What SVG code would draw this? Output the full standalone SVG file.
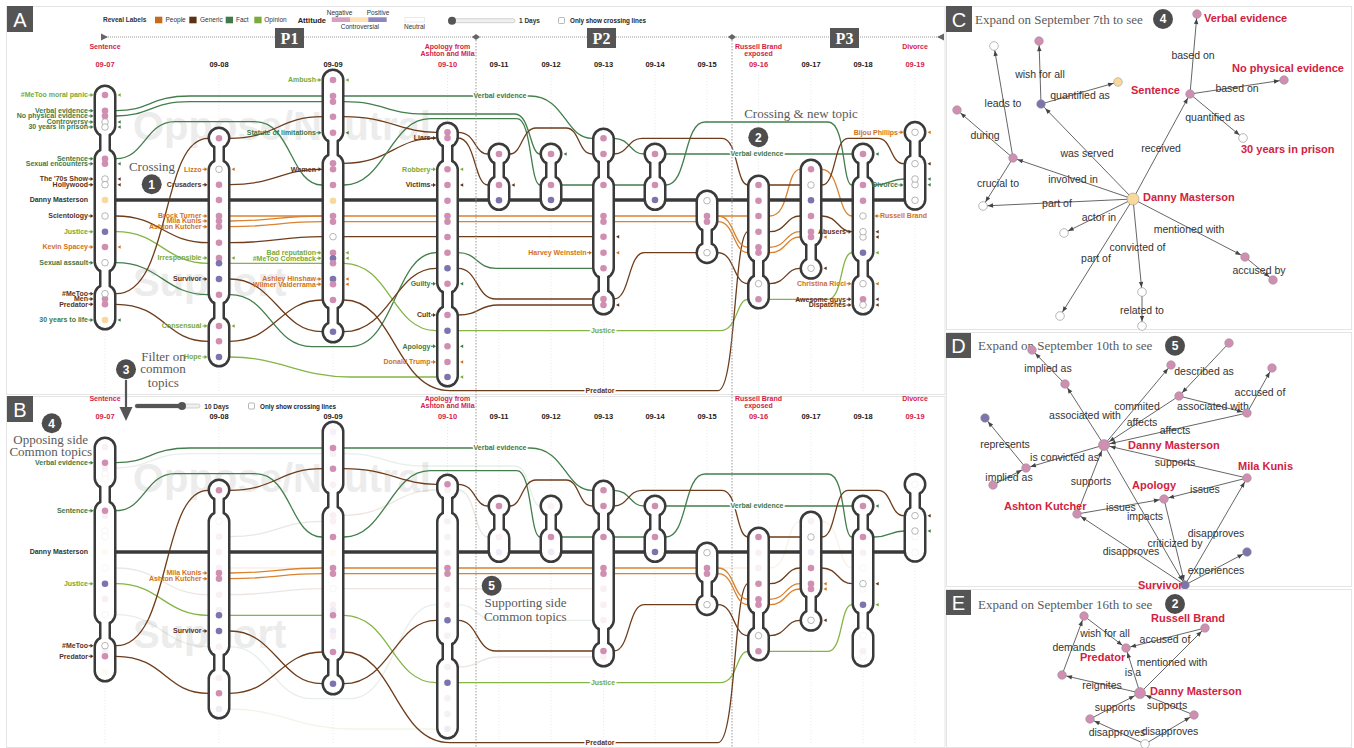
<svg xmlns="http://www.w3.org/2000/svg" width="1354" height="748" viewBox="0 0 1354 748">
<style>
text{font-family:"Liberation Sans",Arial,sans-serif}
.lb{font-size:7px;font-weight:bold;text-anchor:end}
.lbs{font-size:7px;font-weight:bold;text-anchor:start}
.f{fill:#3e7a47}.o{fill:#78aa37}.pe{fill:#d0721c}.g{fill:#5b3217}.dmc{fill:#333}
.L path{fill:none;stroke-width:1.3}
.lf{stroke:#437f4c}.lo{stroke:#84b545}.lp{stroke:#d98330}.lg{stroke:#6e3d1b}
.co{fill:#3a3a3a;stroke:#3a3a3a;stroke-width:5}
.ci{fill:#fff;stroke:none}
.np{fill:#d08fb2}.nv{fill:#7c75ad}.ny{fill:#f9d89c}.nw{fill:#fff;stroke:#9a9a9a;stroke-width:.7}
.gn .np,.gn .nv,.gn .ny{stroke:#8a8a8a;stroke-width:.5}
.il{font-size:7px;font-weight:bold;text-anchor:middle;stroke:#fff;stroke-width:3;paint-order:stroke;stroke-linejoin:round}
.ev{font-size:7px;font-weight:bold;fill:#d3224a;text-anchor:middle}
.dt{font-size:7.5px;font-weight:bold;fill:#222;text-anchor:middle}
.dt.red{fill:#d3224a}
.ann{font-family:"Liberation Serif","DejaVu Serif",serif;font-size:13px;fill:#5a5a5a}
.ctr{text-anchor:middle}
.bd circle{fill:#4d4d4d}.bd text{fill:#fff;font-size:12px;font-weight:bold;text-anchor:middle}
.box{fill:#555}
.bl{fill:#fff;font-size:20px;text-anchor:middle}
.fr{fill:none;stroke:#e4e4e4}
.ed{stroke:#555;stroke-width:.9;marker-end:url(#ah)}
.edL{stroke:#555;stroke-width:.9;marker-end:url(#ahL)}
.el{font-size:10.5px;fill:#333;text-anchor:middle}
.rl{font-size:11px;font-weight:bold;fill:#d3223f}
.lgt{font-size:6.5px;fill:#333}
.wm{font-size:40px;font-weight:bold;fill:#ececec}
.pb{fill:#fff;font-family:"Liberation Serif",serif;font-size:16px;font-weight:bold;text-anchor:middle}
</style>
<defs>
<marker id="ah" viewBox="-7 -3 12 6" refX="4.6" refY="0" markerWidth="12" markerHeight="6" markerUnits="userSpaceOnUse" orient="auto"><path d="M0,0 L-5.5,-2.2 L-5.5,2.2 z" fill="#444"/></marker>
<marker id="ahL" viewBox="-7 -3 14 6" refX="6.2" refY="0" markerWidth="14" markerHeight="6" markerUnits="userSpaceOnUse" orient="auto"><path d="M0,0 L-5.5,-2.2 L-5.5,2.2 z" fill="#444"/></marker>
<path id="arr" d="M-5,-0.45 h2 v-1.5 l3,1.95 l-3,1.95 v-1.5 h-2 z"/>
<path id="rm" d="M0,0 l3.2,-1.7 v3.4 z"/>
<g id="s0907"><rect x="96" y="87" width="18" height="48" rx="9"/><rect x="96" y="150" width="18" height="121" rx="9"/><rect x="96" y="286" width="18" height="42" rx="9"/><rect x="101.5" y="129" width="7" height="27"/><rect x="101.5" y="265" width="7" height="27"/></g>
<g id="s0908"><rect x="210" y="129" width="18" height="18" rx="9"/><rect x="210" y="161" width="18" height="142" rx="9"/><rect x="210" y="318" width="18" height="47" rx="9"/><rect x="215.5" y="141" width="7" height="26"/><rect x="215.5" y="297" width="7" height="27"/></g>
<g id="s0909"><rect x="324" y="71" width="18" height="70" rx="9"/><rect x="324" y="155" width="18" height="153" rx="9"/><rect x="324" y="323" width="18" height="18" rx="9"/><rect x="329.5" y="135" width="7" height="26"/><rect x="329.5" y="302" width="7" height="27"/></g>
<g id="s0910"><rect x="438.5" y="124" width="18" height="22" rx="9"/><rect x="438.5" y="161" width="18" height="131" rx="9"/><rect x="438.5" y="307" width="18" height="78" rx="9"/><rect x="444" y="140" width="7" height="27"/><rect x="444" y="286" width="7" height="27"/></g>
<g id="s0911"><rect x="490" y="145" width="18" height="18" rx="9"/><rect x="490" y="177" width="18" height="31.5" rx="9"/><rect x="495.5" y="157" width="7" height="26"/></g>
<g id="s0912"><rect x="542" y="145" width="18" height="18" rx="9"/><rect x="542" y="177" width="18" height="31.5" rx="9"/><rect x="547.5" y="157" width="7" height="26"/></g>
<g id="s0913"><rect x="594.5" y="130" width="18" height="32" rx="9"/><rect x="594.5" y="177" width="18" height="100" rx="9"/><rect x="594.5" y="291" width="18" height="22" rx="9"/><rect x="600" y="156" width="7" height="27"/><rect x="600" y="271" width="7" height="26"/></g>
<g id="s0914"><rect x="646" y="145" width="18" height="18" rx="9"/><rect x="646" y="177" width="18" height="31.5" rx="9"/><rect x="651.5" y="157" width="7" height="26"/></g>
<g id="s0915"><rect x="698" y="192" width="18" height="38" rx="9"/><rect x="698" y="243.7" width="18" height="18" rx="9"/><rect x="703.5" y="224" width="7" height="25.7"/></g>
<g id="s0916"><rect x="749.5" y="177" width="18" height="84" rx="9"/><rect x="749.5" y="276" width="18" height="31" rx="9"/><rect x="755" y="255" width="7" height="27"/></g>
<g id="s0917"><rect x="802" y="161" width="18" height="84" rx="9"/><rect x="802" y="259.3" width="18" height="18" rx="9"/><rect x="807.5" y="239" width="7" height="26.3"/></g>
<g id="s0918"><rect x="854" y="145" width="18" height="18" rx="9"/><rect x="854" y="177" width="18" height="84" rx="9"/><rect x="854" y="276" width="18" height="37" rx="9"/><rect x="859.5" y="157" width="7" height="26"/><rect x="859.5" y="255" width="7" height="27"/></g>
<g id="s0919"><rect x="906" y="123.3" width="18" height="18" rx="9"/><rect x="906" y="155.7" width="18" height="52.6" rx="9"/><rect x="911.5" y="135.3" width="7" height="26.4"/></g>
</defs>
<rect width="1354" height="748" fill="#fff"/>

<!-- ===== PANEL A ===== -->
<g id="panelA">
<rect class="fr" x="6.5" y="6.5" width="938.5" height="388"/>
<rect class="box" x="7" y="6" width="26" height="26"/><text class="bl" x="20" y="26.5">A</text>
<text class="wm" x="133" y="140">Oppose/Neutral</text>
<text class="wm" x="133" y="296">Support</text>
<g id="legend">
<text class="lgt" x="103" y="21.5" font-weight="bold">Reveal Labels</text>
<rect x="155" y="16.7" width="7.3" height="6.6" fill="#c8691c"/><text class="lgt" x="165.5" y="22">People</text>
<rect x="189.3" y="16.7" width="7.3" height="6.6" fill="#5a3214"/><text class="lgt" x="200" y="22">Generic</text>
<rect x="225.7" y="16.7" width="7.3" height="6.6" fill="#3f7a4a"/><text class="lgt" x="236" y="22">Fact</text>
<rect x="254.3" y="16.7" width="7.3" height="6.6" fill="#7aab3a"/><text class="lgt" x="264.3" y="22">Opinion</text>
<text x="297.7" y="22.5" font-size="7.5" font-weight="bold" fill="#222">Attitude</text>
<rect x="331.7" y="17.3" width="18.3" height="4.7" fill="#d99ec0"/>
<rect x="350" y="17.3" width="18.3" height="4.7" fill="#fde1b5"/>
<rect x="368.3" y="17.3" width="18.4" height="4.7" fill="#8e86bd"/>
<text class="lgt" x="326.7" y="14.5">Negative</text>
<text class="lgt" x="366.7" y="14.5">Positive</text>
<text class="lgt" x="340.7" y="29">Controversial</text>
<rect x="405" y="17.3" width="19.3" height="4.7" fill="#fff" stroke="#ddd" stroke-width=".6"/>
<text class="lgt" x="404" y="29">Neutral</text>
<rect x="452" y="18.7" width="63" height="4" rx="2" fill="#f0f0f0" stroke="#bbb" stroke-width=".6"/>
<circle cx="452" cy="20.7" r="4" fill="#555"/>
<text class="lgt" x="519" y="23" font-weight="bold">1 Days</text>
<rect x="558.5" y="17.5" width="6" height="6" rx="1" fill="#fff" stroke="#888" stroke-width=".6"/>
<text x="570" y="23" font-size="6.3" font-weight="bold" fill="#222">Only show crossing lines</text>
</g>
<g id="timeline">
<line x1="106" y1="37" x2="940" y2="37" stroke="#999" stroke-width="1.2" stroke-dasharray="1 1"/>
<polygon points="101,33.5 108,37 101,40.5" fill="#666"/>
<polygon points="944,33.5 937,37 944,40.5" fill="#666"/>
<polygon points="472,37 476,34 480,37 476,40" fill="#666"/>
<polygon points="728,37 732,34 736,37 732,40" fill="#666"/>
<rect class="box" x="275" y="28" width="29" height="20"/><text class="pb" x="289.5" y="43.5">P1</text>
<rect class="box" x="587" y="28" width="29" height="20"/><text class="pb" x="601.5" y="43.5">P2</text>
<rect class="box" x="830" y="28" width="29" height="20"/><text class="pb" x="844.5" y="43.5">P3</text>
</g>
<g id="hdr">
<text class="ev" x="105" y="49">Sentence</text>
<text class="ev" x="447.5" y="49">Apology from</text>
<text class="ev" x="447.5" y="56">Ashton and Mila</text>
<text class="ev" x="758.5" y="49">Russell Brand</text>
<text class="ev" x="758.5" y="56">exposed</text>
<text class="ev" x="915" y="49">Divorce</text>
<text class="dt red" x="105" y="67">09-07</text>
<text class="dt" x="219" y="67">09-08</text>
<text class="dt" x="333" y="67">09-09</text>
<text class="dt red" x="447.5" y="67">09-10</text>
<text class="dt" x="499" y="67">09-11</text>
<text class="dt" x="551" y="67">09-12</text>
<text class="dt" x="603.5" y="67">09-13</text>
<text class="dt" x="655" y="67">09-14</text>
<text class="dt" x="707" y="67">09-15</text>
<text class="dt red" x="758.5" y="67">09-16</text>
<text class="dt" x="811" y="67">09-17</text>
<text class="dt" x="863" y="67">09-18</text>
<text class="dt red" x="915" y="67">09-19</text>
</g>
<g id="guides" stroke="#e3e3e3" stroke-width=".8" stroke-dasharray="1 2">
<line x1="105" y1="72" x2="105" y2="392"/><line x1="219" y1="72" x2="219" y2="392"/><line x1="333" y1="72" x2="333" y2="392"/><line x1="447.5" y1="72" x2="447.5" y2="392"/><line x1="499" y1="72" x2="499" y2="392"/><line x1="551" y1="72" x2="551" y2="392"/><line x1="603.5" y1="72" x2="603.5" y2="392"/><line x1="655" y1="72" x2="655" y2="392"/><line x1="707" y1="72" x2="707" y2="392"/><line x1="758.5" y1="72" x2="758.5" y2="392"/><line x1="811" y1="72" x2="811" y2="392"/><line x1="863" y1="72" x2="863" y2="392"/><line x1="915" y1="72" x2="915" y2="392"/>
</g>
<g id="connectors-A" class="L">
<g id="lo">
<path class="lf" d="M116,116 C150,116 150,101.7 190,101.7 L344,101.7 C385,101.7 385,114 425,114 L515,114 C530,114 530,154 540,154"/>
<path class="lg" d="M230,184.7 C275,184.7 280,169.3 322,169.3"/>
<path class="lg" d="M344,163.3 C390,163.3 395,138 436,138"/>
<path class="lg" d="M458,138 C476,138 474,185 488,185"/>
<path class="lg" d="M116,216 C160,216 165,242.7 208,242.7 L230,242.7 C275,242.7 280,236.7 322,236.7 L592,236.7"/>
<path class="lf" d="M116,262.7 C160,262.7 165,294.7 208,294.7 L230,294.7 C270,294.7 272,346.7 312,346.7 L350,346.7 C395,346.7 395,252.7 436,252.7 L458,252.7 C478,252.7 476,268.3 496,268.3 L592,268.3"/>
<path class="lo" d="M230,357 C280,357 300,377 350,377 L436,377"/>
<path class="lg" d="M458,315 C480,315 478,305 498,305 L592,305"/>
<path class="lp" d="M230,216 L322,216"/>
<path class="lp" d="M718,216 L748,216 M770,216 C790,216 786,169.3 800,169.3 M822,169.3 C840,169.3 838,216 852,216"/>
</g>
<g id="lc">
<path class="lf" d="M116,110.7 C150,110.7 150,96 190,96 L530,96 C565,96 565,138.3 592,138.3 L614,138.3 C630,138.3 630,154 644,154 L852,154"/>
<path class="lf" d="M116,158.7 C145,158.7 145,121.7 175,121.7 L255,121.7 C292,121.7 290,185 322,185 L344,185 C385,185 390,118.7 430,118.7 L517,118.7 C532,118.7 530,185 540,185 L666,185 C688,185 683,122 705,122 L828,122 C846,122 842,185 852,185 L874,185 C890,185 890,179 904,179"/>
<path class="lo" d="M116,231.7 C160,231.7 165,263.3 208,263.3 L344,263.3 C390,263.3 392,330.7 436,330.7 L720,330.7 C738,330.7 736,299.3 748,299.3 L828,299.3 C843,299.3 840,252.7 852,252.7"/>
<path class="lg" d="M116,293.7 C172,293.7 160,138.3 208,138.3 L230,138.3 C275,138.3 280,116.7 322,116.7 L344,116.7 C390,116.7 400,132.3 436,132.3 L458,132.3 C476,132.3 474,154 488,154 L510,154 C522,154 522,128 536,128 L566,128 C580,128 578,154 592,154 L614,154 C628,154 628,138.3 642,138.3 L722,138.3 C738,138.3 736,185 748,185 L822,185 C836,185 834,138.3 848,138.3 L878,138.3 C892,138.3 890,163.7 904,163.7"/>
<path class="lg" d="M116,304.3 C165,304.3 165,341.3 208,341.3 L230,341.3 C275,341.3 280,300 322,300 L344,300 C395,300 395,390.7 450,390.7 L718,390.7 C736,390.7 734,231.7 748,231.7 L770,231.7 C786,231.7 786,216 800,216 L822,216 C838,216 838,231.7 852,231.7"/>
<path class="lg" d="M230,279 C275,279 280,331.7 322,331.7 L344,331.7 C390,331.7 395,268.3 436,268.3 L458,268.3 C478,268.3 476,299 496,299 L614,299 C630,299 628,252.7 644,252.7 L718,252.7 C735,252.7 733,283.7 748,283.7 L770,283.7 C786,283.7 786,268.3 800,268.3"/>
<path class="lp" d="M230,221 C275,221 280,216 322,216 L718,216 C735,216 733,247.3 748,247.3 L770,247.3 C786,247.3 786,231.7 800,231.7"/>
<path class="lp" d="M230,226.7 C275,226.7 280,221.7 322,221.7 L718,221.7 C735,221.7 733,252.7 748,252.7 L770,252.7 C786,252.7 786,237 800,237"/>
</g>
<line x1="110" y1="200" x2="910" y2="200" stroke="#3a3a3a" stroke-width="3.5"/>
</g>
<g id="capsA">
<g id="A-0907"><use href="#s0907" class="co"/><use href="#s0907" class="ci"/></g>
<g id="A-0908"><use href="#s0908" class="co"/><use href="#s0908" class="ci"/></g>
<g id="A-0909"><use href="#s0909" class="co"/><use href="#s0909" class="ci"/></g>
<g id="A-0910"><use href="#s0910" class="co"/><use href="#s0910" class="ci"/></g>
<g id="A-0911"><use href="#s0911" class="co"/><use href="#s0911" class="ci"/></g>
<g id="A-0912"><use href="#s0912" class="co"/><use href="#s0912" class="ci"/></g>
<g id="A-0913"><use href="#s0913" class="co"/><use href="#s0913" class="ci"/></g>
<g id="A-0914"><use href="#s0914" class="co"/><use href="#s0914" class="ci"/></g>
<g id="A-0915"><use href="#s0915" class="co"/><use href="#s0915" class="ci"/></g>
<g id="A-0916"><use href="#s0916" class="co"/><use href="#s0916" class="ci"/></g>
<g id="A-0917"><use href="#s0917" class="co"/><use href="#s0917" class="ci"/></g>
<g id="A-0918"><use href="#s0918" class="co"/><use href="#s0918" class="ci"/></g>
<g id="A-0919"><use href="#s0919" class="co"/><use href="#s0919" class="ci"/></g>
</g>
<g id="topicsA">
<g id="no">
<circle cx="105" cy="95" r="3.3" class="np"/><circle cx="105" cy="116" r="3.3" class="np"/><circle cx="105" cy="122" r="3.3" class="nw"/><circle cx="105" cy="127" r="3.3" class="nw"/><circle cx="105" cy="163.7" r="3.3" class="np"/><circle cx="105" cy="179" r="3.3" class="nw"/><circle cx="105" cy="184.7" r="3.3" class="nw"/><circle cx="105" cy="200" r="3.3" class="ny"/><circle cx="105" cy="216" r="3.3" class="nw"/><circle cx="105" cy="247" r="3.3" class="np"/><circle cx="105" cy="262.7" r="3.3" class="nw"/><circle cx="105" cy="299" r="3.3" class="np"/><circle cx="105" cy="320" r="3.3" class="ny"/>
<circle cx="219" cy="169.3" r="3.3" class="nw"/><circle cx="219" cy="184.7" r="3.3" class="np"/><circle cx="219" cy="200" r="3.3" class="np"/><circle cx="219" cy="216" r="3.3" class="np"/><circle cx="219" cy="242.7" r="3.3" class="np"/><circle cx="219" cy="258" r="3.3" class="np"/><circle cx="219" cy="294.7" r="3.3" class="np"/><circle cx="219" cy="326" r="3.3" class="np"/><circle cx="219" cy="357" r="3.3" class="nv"/>
<circle cx="333" cy="80" r="3.3" class="np"/><circle cx="333" cy="101.7" r="3.3" class="np"/><circle cx="333" cy="132.7" r="3.3" class="np"/><circle cx="333" cy="163.3" r="3.3" class="np"/><circle cx="333" cy="169.3" r="3.3" class="np"/><circle cx="333" cy="200.7" r="3.3" class="ny"/><circle cx="333" cy="236.7" r="3.3" class="nw"/><circle cx="333" cy="252.7" r="3.3" class="np"/><circle cx="333" cy="258.3" r="3.3" class="nv"/><circle cx="333" cy="279" r="3.3" class="nv"/><circle cx="333" cy="284.3" r="3.3" class="np"/>
<circle cx="447.5" cy="138" r="3.3" class="np"/><circle cx="447.5" cy="169.3" r="3.3" class="np"/><circle cx="447.5" cy="185" r="3.3" class="np"/><circle cx="447.5" cy="200.7" r="3.3" class="np"/><circle cx="447.5" cy="237" r="3.3" class="np"/><circle cx="447.5" cy="252.7" r="3.3" class="np"/><circle cx="447.5" cy="283.7" r="3.3" class="np"/><circle cx="447.5" cy="315" r="3.3" class="np"/><circle cx="447.5" cy="346.3" r="3.3" class="np"/><circle cx="447.5" cy="362" r="3.3" class="np"/><circle cx="447.5" cy="377" r="3.3" class="nv"/>
<circle cx="499" cy="185" r="3.3" class="np"/><circle cx="499" cy="200.3" r="3.3" class="nv"/>
<circle cx="551" cy="154" r="3.3" class="np"/><circle cx="551" cy="200" r="3.3" class="nv"/>
<circle cx="603.5" cy="236.7" r="3.3" class="np"/><circle cx="603.5" cy="252.7" r="3.3" class="np"/><circle cx="603.5" cy="268.3" r="3.3" class="np"/><circle cx="603.5" cy="305" r="3.3" class="np"/>
<circle cx="758.5" cy="200.7" r="3.3" class="np"/><circle cx="758.5" cy="216" r="3.3" class="np"/>
<circle cx="811" cy="169.3" r="3.3" class="np"/><circle cx="811" cy="200.3" r="3.3" class="nv"/>
<circle cx="863" cy="200.7" r="3.3" class="np"/><circle cx="863" cy="216" r="3.3" class="nw"/><circle cx="863" cy="237" r="3.3" class="nw"/><circle cx="863" cy="283.7" r="3.3" class="nw"/><circle cx="863" cy="299.3" r="3.3" class="np"/><circle cx="863" cy="305" r="3.3" class="nw"/>
<circle cx="915" cy="132.3" r="3.3" class="nw"/><circle cx="915" cy="184.7" r="3.3" class="nw"/><circle cx="915" cy="200.3" r="3.3" class="nw"/>
</g>
<g id="nc">
<circle cx="105" cy="110.7" r="3.3" class="np"/><circle cx="105" cy="158.7" r="3.3" class="np"/><circle cx="105" cy="231.7" r="3.3" class="nv"/><circle cx="105" cy="293.7" r="3.3" class="nw"/><circle cx="105" cy="304.3" r="3.3" class="np"/>
<circle cx="219" cy="138.3" r="3.3" class="np"/><circle cx="219" cy="221" r="3.3" class="np"/><circle cx="219" cy="226.7" r="3.3" class="np"/><circle cx="219" cy="263.3" r="3.3" class="nv"/><circle cx="219" cy="279" r="3.3" class="nv"/><circle cx="219" cy="341.3" r="3.3" class="np"/>
<circle cx="333" cy="96" r="3.3" class="np"/><circle cx="333" cy="116.7" r="3.3" class="np"/><circle cx="333" cy="185" r="3.3" class="np"/><circle cx="333" cy="216" r="3.3" class="np"/><circle cx="333" cy="221.7" r="3.3" class="np"/><circle cx="333" cy="263.3" r="3.3" class="np"/><circle cx="333" cy="300" r="3.3" class="np"/><circle cx="333" cy="331.7" r="3.3" class="nv"/>
<circle cx="447.5" cy="132.3" r="3.3" class="np"/><circle cx="447.5" cy="216" r="3.3" class="np"/><circle cx="447.5" cy="221.7" r="3.3" class="np"/><circle cx="447.5" cy="268.3" r="3.3" class="nv"/><circle cx="447.5" cy="330.7" r="3.3" class="nv"/>
<circle cx="499" cy="154" r="3.3" class="np"/>
<circle cx="551" cy="185" r="3.3" class="np"/>
<circle cx="603.5" cy="138.3" r="3.3" class="np"/><circle cx="603.5" cy="154" r="3.3" class="np"/><circle cx="603.5" cy="185" r="3.3" class="np"/><circle cx="603.5" cy="216" r="3.3" class="np"/><circle cx="603.5" cy="221.7" r="3.3" class="np"/><circle cx="603.5" cy="299" r="3.3" class="np"/>
<circle cx="655" cy="154" r="3.3" class="np"/><circle cx="655" cy="185" r="3.3" class="np"/><circle cx="655" cy="200" r="3.3" class="nv"/>
<circle cx="707" cy="200.7" r="3.3" class="nw"/><circle cx="707" cy="216" r="3.3" class="np"/><circle cx="707" cy="221.7" r="3.3" class="np"/><circle cx="707" cy="252.7" r="3.3" class="nw"/>
<circle cx="758.5" cy="185" r="3.3" class="np"/><circle cx="758.5" cy="231.7" r="3.3" class="np"/><circle cx="758.5" cy="247.3" r="3.3" class="np"/><circle cx="758.5" cy="252.7" r="3.3" class="np"/><circle cx="758.5" cy="283.7" r="3.3" class="nw"/><circle cx="758.5" cy="299.3" r="3.3" class="np"/>
<circle cx="811" cy="185" r="3.3" class="nw"/><circle cx="811" cy="216" r="3.3" class="np"/><circle cx="811" cy="231.7" r="3.3" class="np"/><circle cx="811" cy="237" r="3.3" class="np"/><circle cx="811" cy="268.3" r="3.3" class="nw"/>
<circle cx="863" cy="154" r="3.3" class="np"/><circle cx="863" cy="185" r="3.3" class="np"/><circle cx="863" cy="231.7" r="3.3" class="nw"/><circle cx="863" cy="252.7" r="3.3" class="nv"/>
<circle cx="915" cy="163.7" r="3.3" class="nw"/><circle cx="915" cy="179" r="3.3" class="nw"/>
</g>
</g>
<g id="labelsA">
<text class="lb o" x="88" y="97.4">#MeToo moral panic</text>
<text class="lb f" x="88" y="113.1">Verbal evidence</text>
<text class="lb f" x="88" y="118.4">No physical evidence</text>
<text class="lb f" x="88" y="124.4">Controversy</text>
<text class="lb f" x="88" y="129.4">30 years in prison</text>
<text class="lb f" x="88" y="161.1">Sentence</text>
<text class="lb f" x="88" y="166.1">Sexual encounters</text>
<text class="lb g" x="88" y="181.4">The '70s Show</text>
<text class="lb g" x="88" y="187.1">Hollywood</text>
<text class="lb dmc" x="88" y="202.4">Danny Masterson</text>
<text class="lb g" x="88" y="218.4">Scientology</text>
<text class="lb o" x="88" y="234.1">Justice</text>
<text class="lb pe" x="88" y="249.4">Kevin Spacey</text>
<text class="lb f" x="88" y="265.1">Sexual assault</text>
<text class="lb g" x="88" y="296.1">#MeToo</text>
<text class="lb g" x="88" y="301.4">Men</text>
<text class="lb g" x="88" y="306.7">Predator</text>
<text class="lb f" x="88" y="322.4">30 years to life</text>
<g>
<use href="#arr" x="93.5" y="95" class="o"/><use href="#arr" x="93.5" y="110.7" class="f"/><use href="#arr" x="93.5" y="116" class="f"/><use href="#arr" x="93.5" y="122" class="f"/><use href="#arr" x="93.5" y="127" class="f"/><use href="#arr" x="93.5" y="158.7" class="f"/><use href="#arr" x="93.5" y="163.7" class="f"/><use href="#arr" x="93.5" y="179" class="g"/><use href="#arr" x="93.5" y="184.7" class="g"/><use href="#arr" x="93.5" y="216" class="g"/><use href="#arr" x="93.5" y="231.7" class="o"/><use href="#arr" x="93.5" y="247" class="pe"/><use href="#arr" x="93.5" y="262.7" class="f"/><use href="#arr" x="93.5" y="293.7" class="g"/><use href="#arr" x="93.5" y="299" class="g"/><use href="#arr" x="93.5" y="304.3" class="g"/><use href="#arr" x="93.5" y="320" class="f"/>
</g>
<text class="lb pe" x="201.5" y="171.7">Lizzo</text>
<text class="lb g" x="201.5" y="187.1">Crusaders</text>
<text class="lb pe" x="201.5" y="218.4">Brock Turner</text>
<text class="lb pe" x="201.5" y="223.4">Mila Kunis</text>
<text class="lb pe" x="201.5" y="229.1">Ashton Kutcher</text>
<text class="lb o" x="201.5" y="260.4">Irresponsible</text>
<text class="lb g" x="201.5" y="281.4">Survivor</text>
<text class="lb o" x="201.5" y="328.4">Consensual</text>
<text class="lb o" x="201.5" y="359.4">Hope</text>
<g>
<use href="#arr" x="207.5" y="169.3" class="pe"/><use href="#arr" x="207.5" y="184.7" class="g"/><use href="#arr" x="207.5" y="216" class="pe"/><use href="#arr" x="207.5" y="221" class="pe"/><use href="#arr" x="207.5" y="226.7" class="pe"/><use href="#arr" x="207.5" y="258" class="o"/><use href="#arr" x="207.5" y="279" class="g"/><use href="#arr" x="207.5" y="326" class="o"/><use href="#arr" x="207.5" y="357" class="o"/>
</g>
<text class="lb o" x="316" y="82.4">Ambush</text>
<text class="lb f" x="316" y="135.1">Statute of limitations</text>
<text class="lb g" x="316" y="171.7">Women</text>
<text class="lb o" x="316" y="255.1">Bad reputation</text>
<text class="lb o" x="316" y="260.7">#MeToo Comeback</text>
<text class="lb pe" x="316" y="281.4">Ashley Hinshaw</text>
<text class="lb pe" x="316" y="286.7">Wilmer Valderrama</text>
<g>
<use href="#arr" x="321.5" y="80" class="o"/><use href="#arr" x="321.5" y="132.7" class="f"/><use href="#arr" x="321.5" y="169.3" class="g"/><use href="#arr" x="321.5" y="252.7" class="o"/><use href="#arr" x="321.5" y="258.3" class="o"/><use href="#arr" x="321.5" y="279" class="pe"/><use href="#arr" x="321.5" y="284.3" class="pe"/>
</g>
<text class="lb g" x="430.5" y="140.4">Liars</text>
<text class="lb o" x="430.5" y="171.7">Robbery</text>
<text class="lb g" x="430.5" y="187.4">Victims</text>
<text class="lb f" x="430.5" y="286.1">Guilty</text>
<text class="lb g" x="430.5" y="317.4">Cult</text>
<text class="lb f" x="430.5" y="348.7">Apology</text>
<text class="lb pe" x="430.5" y="364.4">Donald Trump</text>
<g>
<use href="#arr" x="436" y="138" class="g"/><use href="#arr" x="436" y="169.3" class="o"/><use href="#arr" x="436" y="185" class="g"/><use href="#arr" x="436" y="283.7" class="f"/><use href="#arr" x="436" y="315" class="g"/><use href="#arr" x="436" y="346.3" class="f"/><use href="#arr" x="436" y="362" class="pe"/>
</g>
<text class="lb pe" x="586.5" y="255.1">Harvey Weinstein</text>
<use href="#arr" x="592" y="252.7" class="pe"/>
<text class="lb g" x="846" y="234.1">Abusers</text>
<text class="lb pe" x="846" y="286.1">Christina Ricci</text>
<text class="lb g" x="846" y="301.7">Awesome guys</text>
<text class="lb g" x="846" y="307.4">Dispatches</text>
<use href="#arr" x="851.5" y="231.7" class="g"/><use href="#arr" x="851.5" y="283.7" class="pe"/><use href="#arr" x="851.5" y="299.3" class="g"/><use href="#arr" x="851.5" y="305" class="g"/>
<text class="lb pe" x="898" y="134.7">Bijou Phillips</text>
<text class="lb f" x="898" y="187.4">Divorce</text>
<use href="#arr" x="903.5" y="132.3" class="pe"/><use href="#arr" x="903.5" y="185" class="f"/>
<text class="lbs pe" x="880" y="218.4">Russell Brand</text>
<use href="#arr" transform="translate(874.5,216) rotate(180)" class="pe"/>
<g>
<use href="#rm" x="117.5" y="95" class="o"/><use href="#rm" x="117.5" y="122" class="f"/><use href="#rm" x="117.5" y="127" class="f"/><use href="#rm" x="117.5" y="163.7" class="f"/><use href="#rm" x="117.5" y="179" class="g"/><use href="#rm" x="117.5" y="184.7" class="g"/><use href="#rm" x="117.5" y="247" class="pe"/><use href="#rm" x="117.5" y="320" class="f"/>
<use href="#rm" x="231.5" y="169.3" class="pe"/><use href="#rm" x="231.5" y="258" class="o"/><use href="#rm" x="231.5" y="326" class="o"/>
<use href="#rm" x="345.5" y="80" class="o"/><use href="#rm" x="345.5" y="132.7" class="f"/><use href="#rm" x="345.5" y="252.7" class="o"/><use href="#rm" x="345.5" y="258.3" class="o"/><use href="#rm" x="345.5" y="279" class="pe"/><use href="#rm" x="345.5" y="284.3" class="pe"/>
<use href="#rm" x="460" y="169.3" class="o"/><use href="#rm" x="460" y="185" class="g"/><use href="#rm" x="460" y="283.7" class="f"/><use href="#rm" x="460" y="346.3" class="f"/><use href="#rm" x="460" y="362" class="pe"/><use href="#rm" x="460" y="377" class="o"/>
<use href="#rm" x="511.5" y="185" class="g"/><use href="#rm" x="563.5" y="154" class="f"/>
<use href="#rm" x="616" y="236.7" class="g"/><use href="#rm" x="616" y="252.7" class="pe"/><use href="#rm" x="616" y="305" class="g"/>
<use href="#rm" x="823.5" y="231.7" class="pe"/><use href="#rm" x="823.5" y="237" class="pe"/><use href="#rm" x="823.5" y="268.3" class="g"/>
<use href="#rm" x="875.5" y="154" class="f"/><use href="#rm" x="875.5" y="231.7" class="g"/><use href="#rm" x="875.5" y="237" class="g"/><use href="#rm" x="875.5" y="252.7" class="o"/><use href="#rm" x="875.5" y="283.7" class="pe"/><use href="#rm" x="875.5" y="299.3" class="g"/><use href="#rm" x="875.5" y="305" class="g"/>
<use href="#rm" x="927.5" y="132.3" class="pe"/><use href="#rm" x="927.5" y="163.7" class="g"/><use href="#rm" x="927.5" y="179" class="f"/><use href="#rm" x="927.5" y="184.7" class="f"/>
</g>
<text class="il f" x="500" y="98.4">Verbal evidence</text>
<text class="il f" x="757" y="156.4">Verbal evidence</text>
<text class="il o" x="603" y="333.1">Justice</text>
<text class="il g" x="600" y="393.1">Predator</text>
</g>
<text class="ann ctr" x="152" y="171">Crossing</text>
<g class="bd"><circle cx="151.7" cy="184.3" r="10"/><text x="151.7" y="188.5">1</text></g>
<text class="ann ctr" x="801" y="117.5">Crossing &amp; new topic</text>
<g class="bd"><circle cx="758.3" cy="137.3" r="10"/><text x="758.3" y="141.5">2</text></g>
<text class="ann ctr" x="163.5" y="360.5">Filter on</text>
<text class="ann ctr" x="163" y="373">common</text>
<text class="ann ctr" x="163.3" y="386.5">topics</text>
<g class="bd"><circle cx="126" cy="369.3" r="10"/><text x="126" y="373.5">3</text></g>
</g>
<line x1="476" y1="40" x2="476" y2="748" stroke="#999" stroke-dasharray="1.5 1.5"/>
<line x1="732" y1="40" x2="732" y2="748" stroke="#999" stroke-dasharray="1.5 1.5"/>

<!-- ===== PANEL B ===== -->
<g id="panelB">
<rect class="fr" x="6.5" y="396.5" width="938.5" height="351"/>
<rect class="box" x="7" y="396" width="26" height="26"/><text class="bl" x="20" y="416.5">B</text>
<text class="wm" x="133" y="492">Oppose/Neutral</text>
<text class="wm" x="133" y="648">Support</text>
<use href="#hdr" transform="translate(0,351.5)"/>
<use href="#guides" transform="translate(0,352)"/>
<rect x="135" y="404" width="65" height="4" rx="2" fill="#f0f0f0" stroke="#bbb" stroke-width=".6"/>
<rect x="135" y="404" width="47" height="4" rx="2" fill="#555"/>
<circle cx="182" cy="406" r="4" fill="#555"/>
<text class="lgt" x="204.3" y="408.5" font-weight="bold">10 Days</text>
<rect x="248.5" y="403" width="6" height="6" rx="1" fill="#fff" stroke="#888" stroke-width=".6"/>
<text x="260" y="408.5" font-size="6.3" font-weight="bold" fill="#222">Only show crossing lines</text>
<g id="connectors-B" class="L">
<use href="#lo" transform="translate(0,352)" opacity="0.12"/>
<use href="#lc" transform="translate(0,352)"/>
<line x1="110" y1="552" x2="910" y2="552" stroke="#3a3a3a" stroke-width="3.5"/>
</g>
<use id="capsB" href="#capsA" transform="translate(0,352)"/>
<use href="#no" transform="translate(0,352)" opacity="0.13"/>
<use href="#nc" transform="translate(0,352)"/>
<g id="labelsB">
<text class="lb f" x="88" y="465.1">Verbal evidence</text>
<text class="lb f" x="88" y="513.1">Sentence</text>
<text class="lb dmc" x="88" y="554.4">Danny Masterson</text>
<text class="lb o" x="88" y="586.1">Justice</text>
<text class="lb g" x="88" y="648.1">#MeToo</text>
<text class="lb g" x="88" y="658.7">Predator</text>
<use href="#arr" x="93.5" y="462.7" class="f"/><use href="#arr" x="93.5" y="510.7" class="f"/><use href="#arr" x="93.5" y="583.7" class="o"/><use href="#arr" x="93.5" y="645.7" class="g"/><use href="#arr" x="93.5" y="656.3" class="g"/>
<text class="lb pe" x="201.5" y="575.4">Mila Kunis</text>
<text class="lb pe" x="201.5" y="581.1">Ashton Kutcher</text>
<text class="lb g" x="201.5" y="633.4">Survivor</text>
<use href="#arr" x="207.5" y="573" class="pe"/><use href="#arr" x="207.5" y="578.7" class="pe"/><use href="#arr" x="207.5" y="631" class="g"/>
<use href="#rm" x="875.5" y="506" class="f"/><use href="#rm" x="823.5" y="583.7" class="pe"/><use href="#rm" x="823.5" y="589" class="pe"/><use href="#rm" x="823.5" y="620.3" class="g"/><use href="#rm" x="875.5" y="583.7" class="g"/><use href="#rm" x="875.5" y="604.7" class="o"/><use href="#rm" x="927.5" y="515.7" class="g"/><use href="#rm" x="927.5" y="531" class="f"/>
<text class="il f" x="500" y="450.4">Verbal evidence</text>
<text class="il f" x="757" y="508.4">Verbal evidence</text>
<text class="il o" x="603" y="685.1">Justice</text>
<text class="il g" x="600" y="745.1">Predator</text>
</g>
<line x1="126" y1="380" x2="126" y2="409" stroke="#555" stroke-width="2.2"/>
<polygon points="119.5,407 132.5,407 126,421" fill="#555"/>
<g class="bd"><circle cx="51.7" cy="423.3" r="10"/><text x="51.7" y="427.5">4</text></g>
<text class="ann ctr" x="50.7" y="443.5">Opposing side</text>
<text class="ann ctr" x="50.8" y="456">Common topics</text>
<g class="bd"><circle cx="491.7" cy="585.7" r="10"/><text x="491.7" y="589.9">5</text></g>
<text class="ann ctr" x="525.5" y="607">Supporting side</text>
<text class="ann ctr" x="525.3" y="621">Common topics</text>
</g>

<!-- ===== PANEL C ===== -->
<g id="panelC">
<rect class="fr" x="946.5" y="6.5" width="405" height="323"/>
<rect class="box" x="946" y="6" width="26" height="26"/><text class="bl" x="959" y="26.5">C</text>
<text class="ann" x="975" y="23.5" fill="#666">Expand on September 7th to see</text>
<g class="bd"><circle cx="1163" cy="19" r="10"/><text x="1163" y="23.2">4</text></g>
<g id="edgesC">
<line class="edL" x1="1133" y1="199" x2="1041" y2="104"/>
<line class="ed" x1="1041" y1="104" x2="1039" y2="41"/>
<line class="ed" x1="1041" y1="104" x2="1118" y2="82"/>
<line class="ed" x1="1133" y1="199" x2="1013" y2="158"/>
<line class="ed" x1="1013" y1="158" x2="957" y2="110"/>
<line class="ed" x1="1013" y1="158" x2="994" y2="46"/>
<line class="ed" x1="1013" y1="158" x2="983" y2="206"/>
<line class="ed" x1="1133" y1="199" x2="983" y2="206"/>
<line class="ed" x1="1133" y1="199" x2="1190" y2="94"/>
<line class="ed" x1="1190" y1="94" x2="1197" y2="14"/>
<line class="ed" x1="1190" y1="94" x2="1284" y2="80"/>
<line class="ed" x1="1190" y1="94" x2="1243" y2="138"/>
<line class="ed" x1="1133" y1="199" x2="1064" y2="233"/>
<line class="ed" x1="1133" y1="199" x2="1060" y2="316"/>
<line class="ed" x1="1133" y1="199" x2="1142" y2="292"/>
<line class="ed" x1="1142" y1="292" x2="1142" y2="326"/>
<line class="ed" x1="1133" y1="199" x2="1245" y2="257"/>
<line class="ed" x1="1245" y1="257" x2="1273" y2="280"/>
</g>
<g class="el">
<text x="1087" y="156.5">was served</text><text x="1040" y="77.5">wish for all</text><text x="1080" y="98.5">quantified as</text><text x="1073" y="182.5">involved in</text><text x="985" y="138.5">during</text><text x="1003" y="106.5">leads to</text><text x="998" y="186.5">crucial to</text><text x="1057" y="206.5">part of</text><text x="1161" y="151.5">received</text><text x="1193" y="58.5">based on</text><text x="1237" y="91.5">based on</text><text x="1215" y="120.5">quantified as</text><text x="1099" y="220.5">actor in</text><text x="1096" y="261.5">part of</text><text x="1137.5" y="250.5">convicted of</text><text x="1142" y="313.5">related to</text><text x="1189" y="232.5">mentioned with</text><text x="1259" y="273.5">accused by</text>
</g>
<g id="nodesC" class="gn">
<circle id="C-verbal" cx="1197" cy="14" r="4.3" class="np"/><circle cx="994" cy="46" r="4.3" class="nw"/><circle cx="1039" cy="41" r="4.3" class="np"/><circle cx="1118" cy="82" r="4.3" class="ny"/><circle cx="1041" cy="104" r="4.3" class="nv"/><circle cx="957" cy="110" r="4.3" class="np"/><circle id="C-nophys" cx="1284" cy="80" r="4.3" class="np"/><circle id="C-sentence" cx="1190" cy="94" r="4.3" class="np"/><circle id="C-30y" cx="1243" cy="138" r="4.3" class="nw"/><circle cx="1013" cy="158" r="4.3" class="np"/><circle id="C-danny" cx="1133" cy="199" r="6" class="ny"/><circle cx="983" cy="206" r="4.3" class="nw"/><circle cx="1064" cy="233" r="4.3" class="nw"/><circle cx="1245" cy="257" r="4.3" class="np"/><circle cx="1273" cy="280" r="4.3" class="np"/><circle cx="1142" cy="292" r="4.3" class="nw"/><circle cx="1060" cy="316" r="4.3" class="nw"/><circle cx="1142" cy="326" r="4.3" class="nw"/>
</g>
<text class="rl" x="1204" y="22">Verbal evidence</text>
<text class="rl" x="1232" y="72">No physical evidence</text>
<text class="rl" x="1131" y="94">Sentence</text>
<text class="rl" x="1241" y="152.5">30 years in prison</text>
<text class="rl" x="1143" y="201">Danny Masterson</text>
</g>

<!-- ===== PANEL D ===== -->
<g id="panelD">
<rect class="fr" x="946.5" y="332.5" width="405" height="254"/>
<rect class="box" x="946" y="333" width="25" height="25"/><text class="bl" x="958.5" y="352.5">D</text>
<text class="ann" x="978" y="349.5" fill="#666">Expand on September 10th to see</text>
<g class="bd"><circle cx="1175" cy="345.7" r="10"/><text x="1175" y="349.9">5</text></g>
<g id="edgesD">
<line class="ed" x1="1104" y1="445" x2="1065" y2="384"/>
<line class="ed" x1="1065" y1="384" x2="1032" y2="350"/>
<line class="ed" x1="1104" y1="445" x2="1171" y2="365"/>
<line class="ed" x1="1229" y1="343" x2="1179" y2="396"/>
<line class="edL" x1="1179" y1="396" x2="1104" y2="445"/>
<line class="ed" x1="1179" y1="396" x2="1247" y2="413"/>
<line class="ed" x1="1247" y1="413" x2="1272" y2="368"/>
<line class="edL" x1="1247" y1="413" x2="1104" y2="445"/>
<line class="ed" x1="1026" y1="468" x2="985" y2="418"/>
<line class="ed" x1="1104" y1="445" x2="1026" y2="468"/>
<line class="ed" x1="993" y1="485" x2="1026" y2="468"/>
<line class="edL" x1="1247" y1="478" x2="1104" y2="445"/>
<line class="edL" x1="1077" y1="514" x2="1104" y2="445"/>
<line class="ed" x1="1247" y1="478" x2="1164" y2="499"/>
<line class="ed" x1="1077" y1="514" x2="1164" y2="499"/>
<line class="ed" x1="1104" y1="445" x2="1185" y2="585"/>
<line class="ed" x1="1164" y1="499" x2="1185" y2="585"/>
<line class="ed" x1="1185" y1="585" x2="1077" y2="514"/>
<line class="ed" x1="1185" y1="585" x2="1247" y2="478"/>
<line class="ed" x1="1185" y1="585" x2="1247" y2="552"/>
</g>
<g class="el">
<text x="1048" y="371.5">implied as</text><text x="1085" y="418.5">associated with</text><text x="1137" y="409.5">commited</text><text x="1204" y="374.5">described as</text><text x="1142" y="425.5">affects</text><text x="1213" y="409.5">associated with</text><text x="1260" y="395.5">accused of</text><text x="1175" y="433.5">affects</text><text x="1005" y="447.5">represents</text><text x="1064.5" y="460.5">is convicted as</text><text x="1009" y="480.5">implied as</text><text x="1175" y="465.5">supports</text><text x="1091" y="484.5">supports</text><text x="1205" y="492.5">issues</text><text x="1121" y="510.5">issues</text><text x="1145" y="519.5">impacts</text><text x="1175" y="546.5">criticized by</text><text x="1131" y="554.5">disapproves</text><text x="1216" y="536.5">disapproves</text><text x="1216" y="573.5">experiences</text>
</g>
<g id="nodesD" class="gn">
<circle cx="1032" cy="350" r="4.3" class="np"/><circle cx="1065" cy="384" r="4.3" class="np"/><circle cx="1171" cy="365" r="4.3" class="np"/><circle cx="1229" cy="343" r="4.3" class="np"/><circle cx="1272" cy="368" r="4.3" class="np"/><circle cx="1179" cy="396" r="4.3" class="np"/><circle cx="1247" cy="413" r="4.3" class="np"/><circle cx="985" cy="418" r="4.3" class="nv"/><circle id="D-danny" cx="1104" cy="445" r="5.5" class="np"/><circle cx="1026" cy="468" r="4.3" class="np"/><circle cx="993" cy="485" r="4.3" class="np"/><circle id="D-mila" cx="1247" cy="478" r="4.3" class="np"/><circle id="D-apology" cx="1164" cy="499" r="4.3" class="np"/><circle id="D-ashton" cx="1077" cy="514" r="4.3" class="np"/><circle cx="1247" cy="552" r="4.3" class="nv"/><circle id="D-survivor" cx="1185" cy="585" r="4.3" class="nv"/>
</g>
<text class="rl" x="1128" y="449">Danny Masterson</text>
<text class="rl" x="1238" y="470">Mila Kunis</text>
<text class="rl" x="1132" y="489">Apology</text>
<text class="rl" x="1004" y="510">Ashton Kutcher</text>
<text class="rl" x="1138" y="589">Survivor</text>
</g>

<!-- ===== PANEL E ===== -->
<g id="panelE">
<rect class="fr" x="946.5" y="589.5" width="405" height="158"/>
<rect class="box" x="946" y="590" width="25" height="25"/><text class="bl" x="958.5" y="609.5">E</text>
<text class="ann" x="978" y="608.5" fill="#666">Expand on September 16th to see</text>
<g class="bd"><circle cx="1175" cy="604" r="10"/><text x="1175" y="608.2">2</text></g>
<g id="edgesE">
<line class="ed" x1="1062" y1="675" x2="1084" y2="616"/>
<line class="ed" x1="1084" y1="616" x2="1126" y2="648"/>
<line class="ed" x1="1205" y1="628" x2="1126" y2="648"/>
<line class="ed" x1="1140" y1="693" x2="1126" y2="648"/>
<line class="ed" x1="1140" y1="693" x2="1205" y2="628"/>
<line class="ed" x1="1140" y1="693" x2="1062" y2="675"/>
<line class="edL" x1="1090" y1="719" x2="1140" y2="693"/>
<line class="edL" x1="1194" y1="715" x2="1140" y2="693"/>
<line class="ed" x1="1145" y1="744" x2="1090" y2="719"/>
<line class="ed" x1="1145" y1="744" x2="1194" y2="715"/>
</g>
<g class="el">
<text x="1074" y="650.5">demands</text><text x="1105" y="636.5">wish for all</text><text x="1165" y="642.5">accused of</text><text x="1133" y="675.5">is a</text><text x="1172" y="665.5">mentioned with</text><text x="1102" y="688.5">reignites</text><text x="1115" y="710.5">supports</text><text x="1167" y="708.5">supports</text><text x="1117" y="735.5">disapproves</text><text x="1170" y="734.5">disapproves</text>
</g>
<g id="nodesE" class="gn">
<circle cx="1084" cy="616" r="4.3" class="np"/><circle id="E-russell" cx="1205" cy="628" r="4.3" class="np"/><circle id="E-predator" cx="1126" cy="648" r="4.3" class="np"/><circle cx="1062" cy="675" r="4.3" class="np"/><circle id="E-danny" cx="1140" cy="693" r="5.5" class="np"/><circle cx="1090" cy="719" r="4.3" class="np"/><circle cx="1194" cy="715" r="4.3" class="np"/><circle cx="1145" cy="744" r="4.3" class="nw"/>
</g>
<text class="rl" x="1151" y="622">Russell Brand</text>
<text class="rl" x="1080" y="661">Predator</text>
<text class="rl" x="1150" y="695">Danny Masterson</text>
</g>
</svg>
